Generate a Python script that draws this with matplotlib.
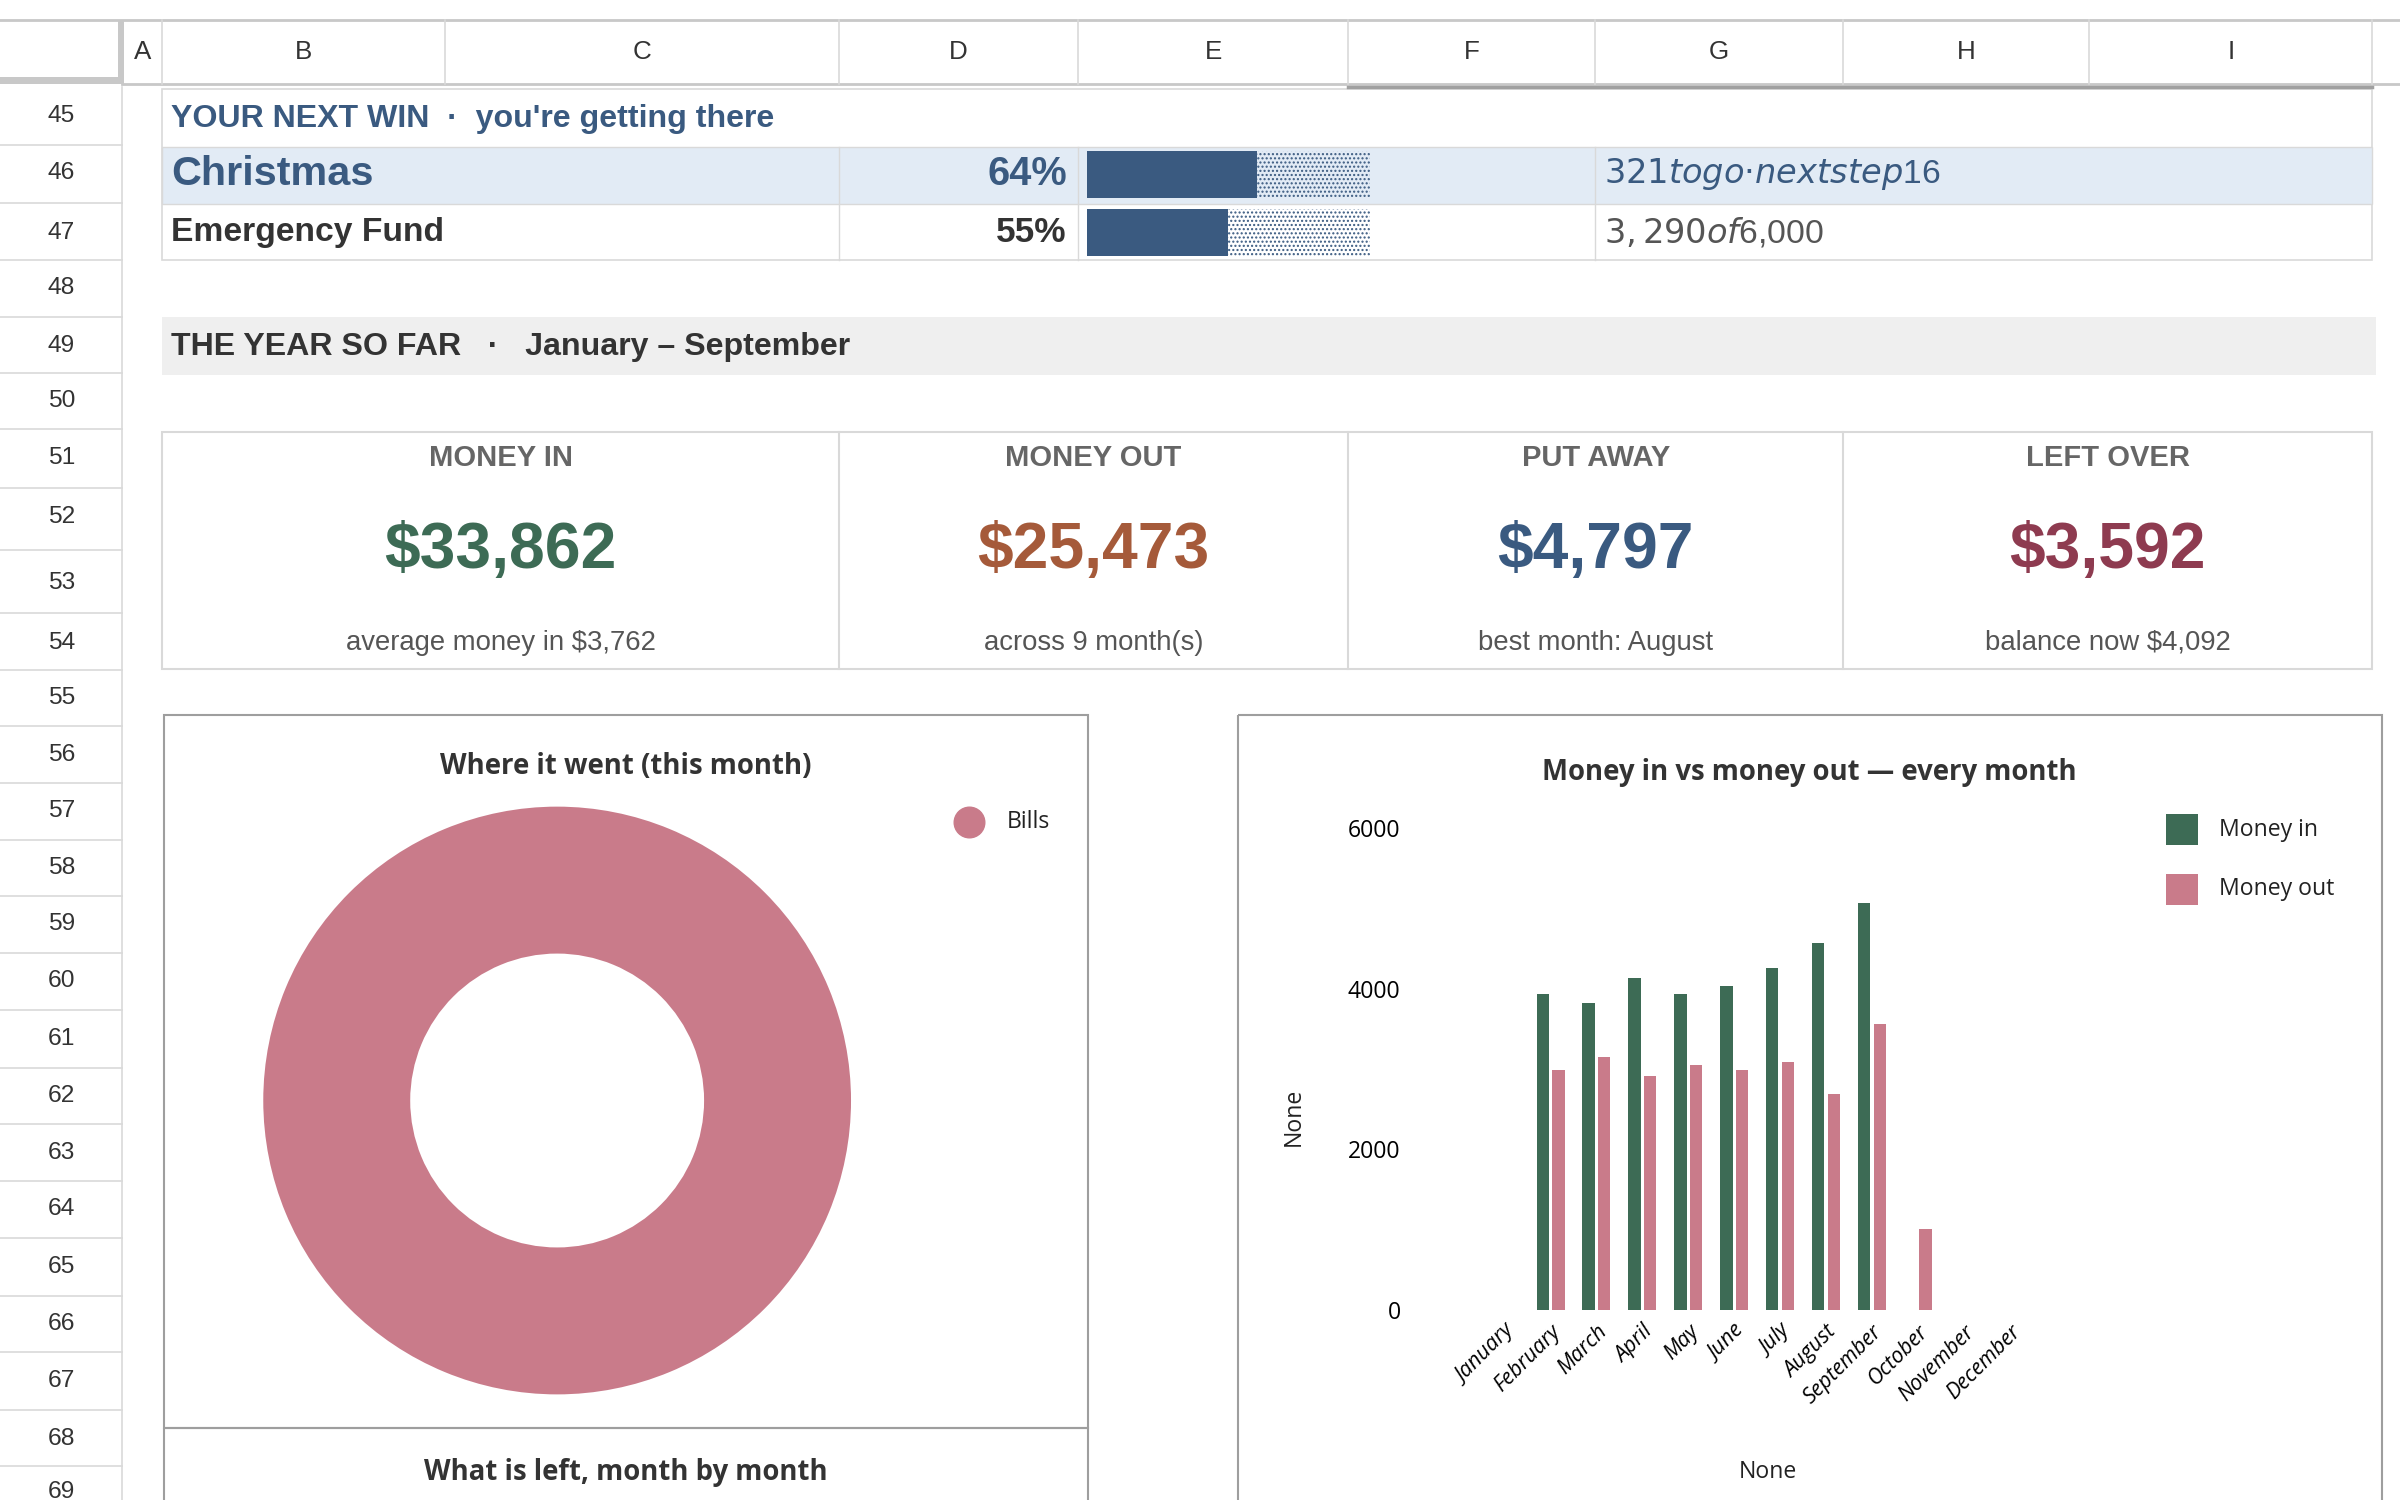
import matplotlib
matplotlib.use("Agg")
import matplotlib.pyplot as plt
from matplotlib.patches import Rectangle, Wedge
import numpy as np

# ---------------- data ----------------
months = ["January", "February", "March", "April", "May", "June", "July",
          "August", "September", "October", "November", "December"]
money_in = [3930, 3825, 4130, 3930, 4030, 4260, 4570, 5070, 0, 0, 0, 0]
money_out = [2985, 3155, 2920, 3055, 2985, 3085, 2685, 3560, 0, 1005, 0, 0]
# bars in the reference are shifted: Jan..Aug values sit on Jan..Sep? keep as read
money_in = [0] + money_in[:8] + [0, 0, 0]
money_out = [0] + money_out[:8] + [1005, 0, 0]
goals = ["Christmas", "Emergency Fund"]
goal_pct = [64, 55]
goal_notes = ["$321 to go · next step $16", "$3,290 of $6,000"]
kpi_titles = ["MONEY IN", "MONEY OUT", "PUT AWAY", "LEFT OVER"]
kpi_values = ["$33,862", "$25,473", "$4,797", "$3,592"]
kpi_subs = ["average money in $3,762", "across 9 month(s)", "best month: August", "balance now $4,092"]
donut_labels = ["Bills"]
donut_values = [1]
col_letters = ["A", "B", "C", "D", "E", "F", "G", "H", "I"]
row_numbers = list(range(45, 70))

W, H = 1568, 980
def fs(px):
    return px * 2400 / W * 0.72

fig = plt.figure(figsize=(24, 15), dpi=100)
bg = fig.add_axes([0, 0, 1, 1])
bg.set_xlim(0, W); bg.set_ylim(H, 0); bg.axis("off")
SS = "Liberation Sans"
GRID = "#d9d9d9"

# column header
col_edges = [80, 106, 291, 548, 704, 881, 1042, 1204, 1365, 1550]
bg.add_patch(Rectangle((0, 13), 77, 37, fc="#ffffff", ec="none"))
bg.add_patch(Rectangle((77, 13), 4, 42, fc="#c8c8c8", ec="none"))
bg.add_patch(Rectangle((0, 50), 80, 5, fc="#c8c8c8", ec="none"))
bg.plot([0, W], [13, 13], color="#c8c8c8", lw=2)
bg.plot([80, W], [55, 55], color="#c8c8c8", lw=2)
bg.plot([881, 1550], [57, 57], color="#a0a0a0", lw=2.5)
for i, L in enumerate(col_letters):
    x0, x1 = col_edges[i], col_edges[i + 1]
    bg.plot([x1, x1], [13, 55], color=GRID, lw=1.2)
    bg.text((x0 + x1) / 2, 34, L, ha="center", va="center", fontsize=fs(17), family=SS, color="#333")
# row numbers
row_y = [76, 113, 152, 188, 226, 262, 299, 338, 381, 420, 456, 493, 530, 567, 604, 641, 679, 716, 753, 790, 828, 865, 902, 940, 975]
for i, r in enumerate(row_numbers):
    bg.text(40, row_y[i], str(r), ha="center", va="center", fontsize=fs(16), family=SS, color="#333")
    if i < len(row_y) - 1:
        yb = (row_y[i] + row_y[i + 1]) / 2
        bg.plot([0, 80], [yb, yb], color=GRID, lw=1.2)
bg.plot([80, 80], [57, H], color=GRID, lw=1.2)

BLUE = "#3a5a80"
# next win block
bg.add_patch(Rectangle((106, 58), 1444, 112, fc="none", ec=GRID, lw=1.2))
bg.text(112, 78, "YOUR NEXT WIN  ·  you're getting there", ha="left", va="center",
        fontsize=fs(21), family=SS, weight="bold", color=BLUE)
bg.add_patch(Rectangle((106, 96), 1444, 37, fc="#e2ebf5", ec=GRID, lw=1.0))
rows_y = [114, 152]
for i, g in enumerate(goals):
    y = rows_y[i]
    c = BLUE if i == 0 else "#333333"
    bg.text(112, y, g, ha="left", va="center", fontsize=fs(27 if i == 0 else 22), family=SS, weight="bold", color=c)
    bg.text(697, y, f"{goal_pct[i]}%", ha="right", va="center", fontsize=fs(26 if i == 0 else 23), family=SS, weight="bold", color=c)
    bx0, bx1 = 710, 895
    fill = bx0 + (bx1 - bx0) * goal_pct[i] / 100 * (0.6 if i == 0 else 0.9)
    fill = bx0 + (bx1 - bx0) * (0.60 if i == 0 else 0.50)
    bg.add_patch(Rectangle((bx0, y - 15.5), fill - bx0, 31, fc=BLUE, ec="none"))
    bg.add_patch(Rectangle((fill, y - 15.5), bx1 - fill, 31, fc="none", ec=BLUE, lw=0, hatch="...."))
    bg.text(1048, y, goal_notes[i], ha="left", va="center", fontsize=fs(22), family=SS,
            color=BLUE if i == 0 else "#555555")
for x in [548, 704, 1042]:
    bg.plot([x, x], [96, 170], color=GRID, lw=1.0)

# year so far band
bg.add_patch(Rectangle((106, 207), 1446, 38, fc="#efefef", ec="none"))
bg.text(112, 227, "THE YEAR SO FAR   ·   January – September", ha="left", va="center",
        fontsize=fs(21), family=SS, weight="bold", color="#333333")

# KPI boxes
kpi_cols = ["#3d6b55", "#a55a3a", "#3a5a80", "#8e3b50"]
kx = [106, 548, 881, 1204, 1550]
bg.add_patch(Rectangle((106, 282), 1444, 155, fc="none", ec=GRID, lw=1.5))
for i in range(4):
    cx = (kx[i] + kx[i + 1]) / 2
    if i > 0:
        bg.plot([kx[i], kx[i]], [282, 437], color=GRID, lw=1.5)
    bg.text(cx, 299, kpi_titles[i], ha="center", va="center", fontsize=fs(19), family=SS, weight="bold", color="#666666")
    bg.text(cx, 360, kpi_values[i], ha="center", va="center", fontsize=fs(42), family=SS, weight="bold", color=kpi_cols[i])
    bg.text(cx, 420, kpi_subs[i], ha="center", va="center", fontsize=fs(18), family=SS, color="#555555")

# panels
PAN = "#9e9e9e"
bg.add_patch(Rectangle((107, 467), 604, 466, fc="none", ec=PAN, lw=1.5))
bg.add_patch(Rectangle((107, 933), 604, 60, fc="none", ec=PAN, lw=1.5))
bg.add_patch(Rectangle((809, 467), 747, 530, fc="none", ec=PAN, lw=1.5))
CH = ["Open Sans", "DejaVu Sans"]
bg.text(409, 501, "Where it went (this month)", ha="center", va="center", fontsize=fs(18), family=CH, weight="bold", color="#333")
bg.text(409, 962, "What is left, month by month", ha="center", va="center", fontsize=fs(18), family=CH, weight="bold", color="#333")
bg.text(1182, 505, "Money in vs money out — every month", ha="center", va="center", fontsize=fs(18), family=CH, weight="bold", color="#333")

def fax(l, t, r, b):
    return fig.add_axes([l / W, 1 - b / H, (r - l) / W, (b - t) / H])

PINK = "#c97b8a"
GREEN = "#3d6b55"
# donut
dax = fax(364 - 200, 719 - 200, 364 + 200, 719 + 200)
dax.pie(donut_values, colors=[PINK], radius=192 / 200, startangle=90,
        wedgeprops=dict(width=96 / 200, edgecolor="none"))
dax.set_xlim(-1, 1); dax.set_ylim(-1, 1); dax.set_aspect("equal"); dax.axis("off")
bg.scatter([633], [537], s=(fs(20)) ** 2, color=PINK, zorder=5)
bg.text(658, 537, donut_labels[0], ha="left", va="center", fontsize=fs(15), family=CH, color="#222")

# bar chart
bax = fax(953, 541, 1343, 856)
x = np.arange(len(months))
bw = 0.27
bax.bar(x - 0.17, money_in, bw, color=GREEN, label="Money in")
bax.bar(x + 0.17, money_out, bw, color=PINK, label="Money out")
bax.set_xlim(-1, 12); bax.set_ylim(0, 6000)
bax.set_yticks([0, 2000, 4000, 6000])
bax.set_xticks(x)
bax.set_xticklabels(months, rotation=45, ha="right", rotation_mode="anchor", style="italic",
                    fontsize=fs(14), family=CH)
for lab in bax.get_yticklabels():
    lab.set_fontsize(fs(15)); lab.set_family(CH)
bax.tick_params(length=0, pad=fs(20) * 1.9)
bax.tick_params(axis="x", pad=8)
for s in bax.spines.values():
    s.set_visible(False)
bg.text(845, 730, "None", rotation=90, ha="center", va="center", fontsize=fs(15), family=CH, color="#222")
bg.text(1155, 962, "None", ha="center", va="center", fontsize=fs(15), family=CH, color="#222")
for i, (lab, c) in enumerate([("Money in", GREEN), ("Money out", PINK)]):
    yy = 542 + 39 * i
    bg.add_patch(Rectangle((1415, yy - 10), 21, 20, fc=c, ec="none"))
    bg.text(1450, yy, lab, ha="left", va="center", fontsize=fs(15), family=CH, color="#222")

fig.savefig("out.png", dpi=100, facecolor="white")
